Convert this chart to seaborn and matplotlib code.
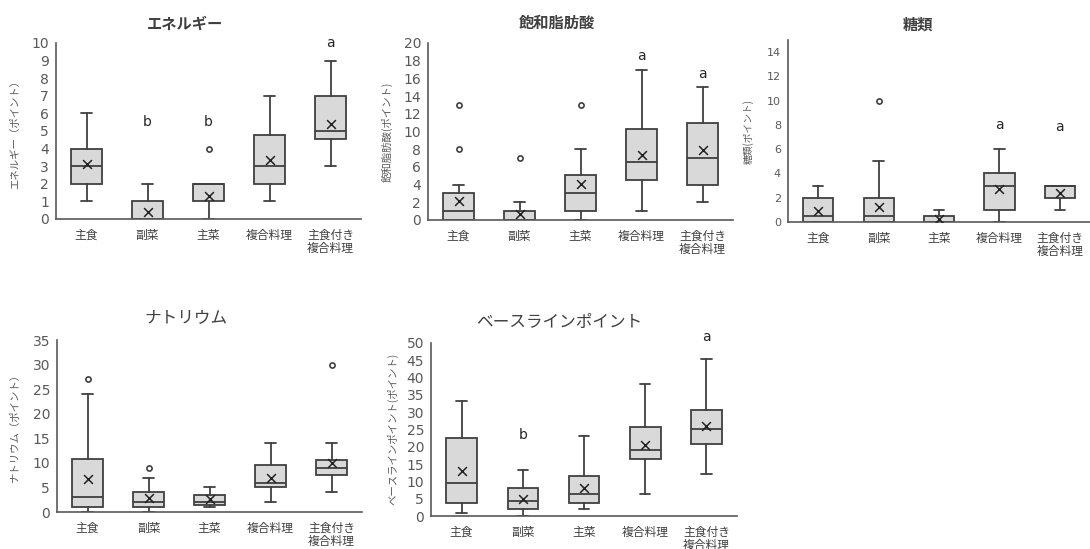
import numpy as np
import pandas as pd
import matplotlib
matplotlib.use("Agg")
import matplotlib.pyplot as plt
import seaborn as sns

categories = ["主食", "副菜", "主菜", "複合料理", "主食付き\n複合料理"]

# エネルギー
energy_low = [1, 0, 0, 1, 3]
energy_q1 = [2, 0, 1, 2, 4.55]
energy_med = [3, 0, 2, 3, 5]
energy_q3 = [4, 1, 2, 4.75, 7]
energy_high = [6, 2, 2, 7, 9]
energy_mean = [3.1, 0.4, 1.3, 3.35, 5.4]
energy_out = [[], [], [4], [], []]
energy_sig = ["", "b", "b", "", "a"]
energy_sig_y = [0, 5.5, 5.5, 0, 10]

# 飽和脂肪酸
sfa_low = [0, 0, 0, 1, 2]
sfa_q1 = [0, 0, 1, 4.5, 4]
sfa_med = [1, 0, 3, 6.5, 7]
sfa_q3 = [3.05, 1, 5.1, 10.3, 11]
sfa_high = [4, 2, 8, 17, 15]
sfa_mean = [2.15, 0.7, 4.1, 7.4, 7.9]
sfa_out = [[8, 13], [7], [13], [], []]
sfa_sig = ["", "", "", "a", "a"]
sfa_sig_y = [0, 0, 0, 18.5, 16.5]

# 糖類
sugar_low = [0, 0, 0, 0, 1]
sugar_q1 = [0, 0, 0, 1, 2]
sugar_med = [0.5, 0.5, 0, 3, 3]
sugar_q3 = [2, 2, 0.5, 4, 3]
sugar_high = [3, 5, 1, 6, 3]
sugar_mean = [0.9, 1.25, 0.25, 2.7, 2.4]
sugar_out = [[], [10], [], [], []]
sugar_sig = ["", "", "", "a", "a"]
sugar_sig_y = [0, 0, 0, 8, 7.8]

# ナトリウム
na_low = [0, 0, 1, 2, 4]
na_q1 = [1, 1, 1.5, 5, 7.5]
na_med = [3, 2, 2, 6, 9]
na_q3 = [10.7, 4, 3.5, 9.5, 10.5]
na_high = [24, 7, 5, 14, 14]
na_mean = [6.8, 2.9, 2.6, 7, 9.9]
na_out = [[27], [9], [], [], [30]]
na_sig = ["", "", "", "", ""]
na_sig_y = [0, 0, 0, 0, 0]

# ベースラインポイント
base_low = [1, 0, 2, 6.3, 12.2]
base_q1 = [3.7, 2.1, 3.7, 16.4, 20.7]
base_med = [9.6, 4.2, 6.3, 19.1, 25.2]
base_q3 = [22.5, 8, 11.7, 25.7, 30.5]
base_high = [33.3, 13.2, 23.2, 38.2, 45.3]
base_mean = [13, 5, 8.2, 20.5, 25.9]
base_out = [[], [], [], [], []]
base_sig = ["", "b", "", "", "a"]
base_sig_y = [0, 23.5, 0, 0, 51.6]

sns.set_theme(style="white")
plt.rcParams['font.family'] = ['DejaVu Sans', 'Noto Sans CJK JP']
JP = ['Noto Sans CJK JP', 'DejaVu Sans']

W, H = 1090, 549
fig = plt.figure(figsize=(W / 100, H / 100), dpi=100)
fig.patch.set_facecolor("white")

EDGE = "#404040"


def px_axes(left, right, bottom, top):
    return fig.add_axes([left / W, 1 - bottom / H, (right - left) / W, (bottom - top) / H])


def draw_panel(ax, low, q1, med, q3, high, mean, outs, sig, sig_y, ymax, yticks, tick_fs=10):
    pos = np.arange(len(categories))
    stats = []
    for i in range(len(categories)):
        stats.append(dict(whislo=low[i], q1=q1[i], med=med[i], q3=q3[i], whishi=high[i], fliers=[]))
    ax.bxp(stats, positions=pos, widths=0.5, patch_artist=True, showfliers=False,
           capwidths=0.17,
           boxprops=dict(facecolor="#d9d9d9", edgecolor=EDGE, linewidth=1.3),
           medianprops=dict(color=EDGE, linewidth=1.3),
           whiskerprops=dict(color=EDGE, linewidth=1.3),
           capprops=dict(color=EDGE, linewidth=1.3))

    sns.scatterplot(x=pos, y=mean, marker="x", color="#222222", s=40, linewidth=1.1,
                    ax=ax, zorder=5, legend=False)

    fx, fy = [], []
    for i, o in enumerate(outs):
        for v in o:
            fx.append(i)
            fy.append(v)
    if fx:
        fl = pd.DataFrame({"x": fx, "y": fy})
        sns.scatterplot(data=fl, x="x", y="y", marker="o", color="white", edgecolor=EDGE,
                        s=14, linewidth=1.2, ax=ax, zorder=5, legend=False)

    for i, s in enumerate(sig):
        if s:
            ax.text(i, sig_y[i], s, ha="center", va="center", fontsize=10,
                    color="#262626", clip_on=False)

    ax.set_xlim(-0.5, len(categories) - 0.5)
    ax.set_ylim(0, ymax)
    ax.set_yticks(yticks)
    ax.set_xticks(pos)
    ax.set_xticklabels(categories, fontsize=8.5, color=EDGE, linespacing=1.05, family=JP)
    ax.set_yticklabels([str(t) for t in yticks], fontsize=tick_fs, color="#595959")
    ax.tick_params(axis="both", length=0, pad=5)
    ax.tick_params(axis="x", pad=7)
    ax.set_xlabel("")
    ax.set_ylabel("")
    sns.despine(ax=ax)
    for sp in ["left", "bottom"]:
        ax.spines[sp].set_color("#595959")
        ax.spines[sp].set_linewidth(1.2)
    ax.set_facecolor("white")


ax1 = px_axes(56, 361, 219, 43)
draw_panel(ax1, energy_low, energy_q1, energy_med, energy_q3, energy_high, energy_mean,
           energy_out, energy_sig, energy_sig_y, 10, list(range(0, 11)))

ax2 = px_axes(428, 733, 220, 43)
draw_panel(ax2, sfa_low, sfa_q1, sfa_med, sfa_q3, sfa_high, sfa_mean,
           sfa_out, sfa_sig, sfa_sig_y, 20, list(range(0, 21, 2)))

ax3 = px_axes(788, 1090, 222, 40)
draw_panel(ax3, sugar_low, sugar_q1, sugar_med, sugar_q3, sugar_high, sugar_mean,
           sugar_out, sugar_sig, sugar_sig_y, 15, list(range(0, 15, 2)), tick_fs=8)

ax4 = px_axes(57, 362, 512, 340)
draw_panel(ax4, na_low, na_q1, na_med, na_q3, na_high, na_mean,
           na_out, na_sig, na_sig_y, 35, list(range(0, 36, 5)))

ax5 = px_axes(431, 737, 516, 343)
draw_panel(ax5, base_low, base_q1, base_med, base_q3, base_high, base_mean,
           base_out, base_sig, base_sig_y, 50, list(range(0, 51, 5)))

# titles
fig.text(185 / W, 1 - 24 / H, "エネルギー", ha="center", va="center", fontsize=11, fontweight="bold", color="#404040", family=JP)
fig.text(557 / W, 1 - 23 / H, "飽和脂肪酸", ha="center", va="center", fontsize=11, fontweight="bold", color="#404040", family=JP)
fig.text(918 / W, 1 - 25 / H, "糖類", ha="center", va="center", fontsize=11, fontweight="bold", color="#404040", family=JP)
fig.text(186 / W, 1 - 318 / H, "ナトリウム", ha="center", va="center", fontsize=12, color="#404040", family=JP)
fig.text(559 / W, 1 - 322 / H, "ベースラインポイント", ha="center", va="center", fontsize=12, color="#404040", family=JP)

# y labels
fig.text(15 / W, 1 - 132 / H, "エネルギー（ポイント）", ha="center", va="center", rotation=90, fontsize=7.5, color="#595959", family=JP)
fig.text(387 / W, 1 - 132 / H, "飽和脂肪酸(ポイント)", ha="center", va="center", rotation=90, fontsize=7.5, color="#595959", family=JP)
fig.text(748 / W, 1 - 132 / H, "糖類(ポイント)", ha="center", va="center", rotation=90, fontsize=7, color="#595959", family=JP)
fig.text(15 / W, 1 - 426 / H, "ナトリウム（ポイント）", ha="center", va="center", rotation=90, fontsize=7.5, color="#595959", family=JP)
fig.text(393 / W, 1 - 429 / H, "ベースラインポイント(ポイント)", ha="center", va="center", rotation=90, fontsize=7.5, color="#595959", family=JP)

fig.savefig("out.png", dpi=100, facecolor="white")
